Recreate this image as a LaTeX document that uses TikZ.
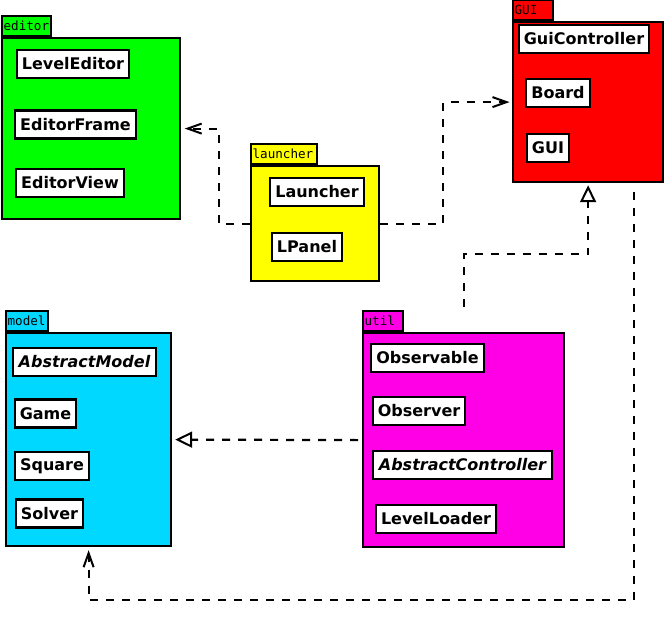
\documentclass[tikz,border=0pt]{standalone}
\usepackage{fontspec}
\setmainfont{DejaVu Sans}
\newfontfamily\tabfont{DejaVu Sans Mono}
\usetikzlibrary{arrows.meta}
\definecolor{cgreen}{RGB}{0,255,0}
\definecolor{cyellow}{RGB}{255,255,0}
\definecolor{cred}{RGB}{255,0,0}
\definecolor{ccyan}{RGB}{0,216,255}
\definecolor{cmag}{RGB}{255,0,230}
\newcommand{\tabtext}[2]{\makebox[#1][l]{#2}}
\tikzset{
  pkgbody/.style={draw=black, line width=2.2pt, anchor=north west, inner sep=0pt},
  pkgtab/.style={draw=black, line width=2.2pt, anchor=south west, inner xsep=1.5pt, inner ysep=0pt, minimum height=20pt, font=\tabfont\fontsize{12.6}{12}\selectfont, text=black},
  cls/.style={draw=black, line width=2.2pt, fill=white, inner xsep=2pt, inner ysep=0pt, minimum height=28pt, font=\bfseries\fontsize{16}{16}\selectfont},
  acls/.style={cls, font=\bfseries\itshape\fontsize{16}{16}\selectfont},
  dep/.style={line width=2.2pt, dash pattern=on 8pt off 8pt, -{Straight Barb[length=14pt,width=10pt,line width=2pt]}},
  real/.style={line width=2.2pt, dash pattern=on 8pt off 8pt, -{Triangle[open,length=17pt,width=16pt,line width=2pt]}}
}
\begin{document}
\begin{tikzpicture}[x=1pt,y=-1pt]
\useasboundingbox (0,0) rectangle (664,616);
% packages
\node[pkgbody, fill=cgreen, minimum width=178pt, minimum height=181pt] (editor) at (1,37) {};
\node[pkgtab, fill=cgreen] (editortab) at (editor.north west) {\tabtext{46pt}{editor}};
\node[pkgbody, fill=cyellow, minimum width=128pt, minimum height=115pt] (launcher) at (250,165) {};
\node[pkgtab, fill=cyellow] (launchertab) at (launcher.north west) {\tabtext{63pt}{launcher}};
\node[pkgbody, fill=cred, minimum width=150pt, minimum height=160pt] (GUI) at (512,21) {};
\node[pkgtab, fill=cred] (GUItab) at (GUI.north west) {\tabtext{37pt}{GUI}};
\node[pkgbody, fill=ccyan, minimum width=165pt, minimum height=213pt] (model) at (5,332) {};
\node[pkgtab, fill=ccyan] (modeltab) at (model.north west) {\tabtext{39pt}{model}};
\node[pkgbody, fill=cmag, minimum width=201pt, minimum height=214pt] (util) at (362,332) {};
\node[pkgtab, fill=cmag] (utiltab) at (util.north west) {\tabtext{37pt}{util}};
% classes
\node[cls, minimum width=112pt] (levelEditor) at (73,64) {LevelEditor};
\node[cls, minimum width=121pt] (editorFrame) at (75.5,124.5) {EditorFrame};
\node[cls, minimum width=108pt] (editorView) at (70,183) {EditorView};
\node[cls, minimum width=94pt] (launcherC) at (317,192) {Launcher};
\node[cls, minimum width=70pt] (lpanel) at (307,247) {LPanel};
\node[cls, minimum width=130pt] (guiController) at (584,39) {GuiController};
\node[cls, minimum width=64pt] (board) at (558,93) {Board};
\node[cls, minimum width=42pt] (guiC) at (548,148) {GUI};
\node[acls, minimum width=143pt] (abstractModel) at (84.5,362) {AbstractModel};
\node[cls, minimum width=61pt] (game) at (45.5,413.5) {Game};
\node[cls, minimum width=74pt] (square) at (52,466) {Square};
\node[cls, minimum width=67pt] (solver) at (49.5,513.5) {Solver};
\node[cls, minimum width=113pt] (observable) at (427.5,358) {Observable};
\node[cls, minimum width=92pt] (observer) at (419,411) {Observer};
\node[acls, minimum width=179pt] (abstractController) at (462.5,465) {AbstractController};
\node[cls, minimum width=120pt] (levelLoader) at (436,519) {LevelLoader};
% connectors
\draw[dep] (launcher.west) -- ++(-31,0) |- ([xshift=3.5pt]editor.east);
\draw[dep] (launcher.east) -- ++(63,0) |- ([xshift=-2.5pt]GUI.west);
\draw[real] ([yshift=25pt]util.north) -- ++(0,-53) -| ([yshift=-2pt]GUI.south);
\draw[real] ([xshift=-4pt]util.west) -- ([xshift=3pt]model.east);
\draw[dep] ([xshift=46pt,yshift=-9pt]GUI.south) -- ++(0,408) -| ([yshift=-3pt]model.south);
\end{tikzpicture}
\end{document}
